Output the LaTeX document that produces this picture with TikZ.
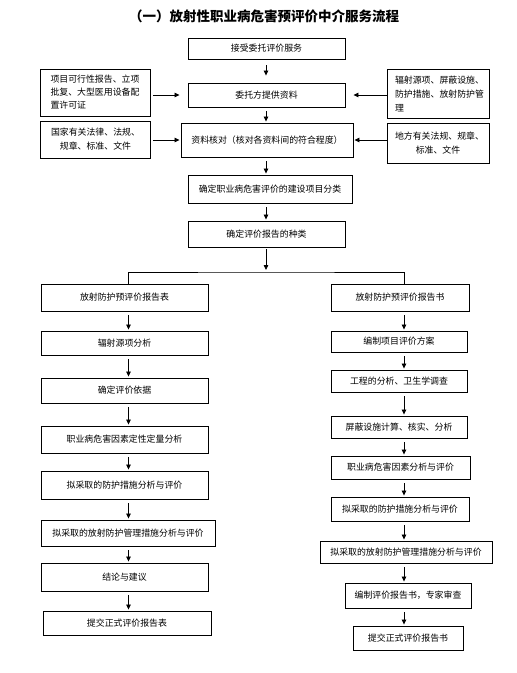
\documentclass[tikz,border=0pt]{standalone}
\usepackage{fontspec}
\setmainfont{Noto Sans CJK SC}
\usetikzlibrary{arrows.meta,calc}
\newcommand\mybox[6]{\node[box, minimum width={(#4-#2)*1pt}, minimum height={(#5-#3)*1pt}] (#1) at ({(#2+#4)/2},{(#3+#5)/2}) {#6};}
\begin{document}
\begin{tikzpicture}[x=1pt,y=-1pt,
  box/.style={draw, line width=0.9pt, inner sep=0pt, font=\fontsize{8.9}{14}\selectfont, align=center},
  side/.style={box, inner xsep=10pt, text width=90pt},
  arr/.style={line width=0.8pt, -{Triangle[length=5pt,width=4.5pt]}, shorten <=4pt, shorten >=1pt},
  ln/.style={line width=0.8pt}]
\useasboundingbox (0,0) rectangle (517,673);
\node[font=\fontsize{13.5}{16}\bfseries] (title) at (264,16) {（一）放射性职业病危害预评价中介服务流程};
% main column
\mybox{t1}{188}{38}{345}{59}{接受委托评价服务}
\mybox{t2}{188}{83}{345}{107}{委托方提供资料}
\mybox{t3}{181}{123}{353}{157}{资料核对（核对各资料间的符合程度）}
\mybox{t4}{188}{175}{352}{203}{确定职业病危害评价的建设项目分类}
\mybox{t5}{188}{221}{345}{247}{确定评价报告的种类}
% side boxes
\node[side, align=left, font=\fontsize{8.9}{13}\selectfont, minimum height=47pt] (L1) at (95.5,92.5) {项目可行性报告、立项\\批复、大型医用设备配\\置许可证};
\node[side, minimum height=37pt] (L2) at (95.5,139.5) {国家有关法律、法规、\\规章、标准、文件};
\node[side, align=left, text width=86pt, inner xsep=8pt, minimum height=49pt] (R1) at (438,93.5) {辐射源项、屏蔽设施、\\防护措施、放射防护管\\理};
\node[side, text width=86pt, inner xsep=8pt, minimum height=40pt] (R2) at (438,143) {地方有关法规、规章、\\标准、文件};
% left column
\mybox{a0}{41}{284}{208}{311}{放射防护预评价报告表}
\mybox{a1}{41}{331}{208}{355}{辐射源项分析}
\mybox{a2}{41}{378}{208}{403}{确定评价依据}
\mybox{a3}{41}{426}{208}{453}{职业病危害因素定性定量分析}
\mybox{a4}{41}{471}{208}{499}{拟采取的防护措施分析与评价}
\mybox{a5}{41}{520}{215}{546}{拟采取的放射防护管理措施分析与评价}
\mybox{a6}{41}{563}{208}{591}{结论与建议}
\mybox{a7}{43}{611}{211}{635}{提交正式评价报告表}
% right column
\mybox{b0}{331}{284}{469}{311}{放射防护预评价报告书}
\mybox{b1}{331}{331}{467}{352}{编制项目评价方案}
\mybox{b2}{331}{370}{467}{392}{工程的分析、卫生学调查}
\mybox{b3}{331}{416}{467}{438}{屏蔽设施计算、核实、分析}
\mybox{b4}{331}{456}{470}{479}{职业病危害因素分析与评价}
\mybox{b5}{331}{497}{469}{521}{拟采取的防护措施分析与评价}
\mybox{b6}{320}{541}{492}{563}{拟采取的放射防护管理措施分析与评价}
\mybox{b7}{345}{583}{471}{608}{编制评价报告书，专家审查}
\mybox{b8}{353}{626}{463}{650}{提交正式评价报告书}
% column coordinates
\coordinate (colM) at (266,0);
\coordinate (colL) at (128.5,0);
\coordinate (colR) at (404,0);
\coordinate (split) at (266,272);
% main arrows
\draw[arr, shorten <=6pt, shorten >=7pt] (t1.south -| colM) -- (t2.north -| colM);
\draw[arr] (t2.south -| colM) -- (t3.north -| colM);
\draw[arr] (t3.south -| colM) -- (t4.north -| colM);
\draw[arr] (t4.south -| colM) -- (t5.north -| colM);
\draw[arr, shorten <=2pt, shorten >=2pt] (t5.south -| colM) -- (split);
\draw[ln] (a0.north -| colL) |- (split) -| (b0.north -| colR);
% side arrows
\draw[arr, shorten <=2pt, shorten >=8pt] (L1.east |- t2.west) -- (t2.west);
\draw[arr, shorten <=0pt, shorten >=8pt] (R1.west |- t2.east) -- (t2.east);
\draw[arr, shorten <=2pt, shorten >=1pt] (L2.east |- t3.west) -- (t3.west);
\draw[arr, shorten <=0pt, shorten >=1pt] (R2.west |- t3.east) -- (t3.east);
% left column arrows
\foreach \p/\q in {a0/a1,a1/a2,a2/a3,a3/a4,a4/a5,a5/a6,a6/a7}
  \draw[arr] (\p.south -| colL) -- (\q.north -| colL);
% right column arrows
\foreach \p/\q in {b0/b1,b1/b2,b2/b3,b3/b4,b4/b5,b5/b6,b6/b7,b7/b8}
  \draw[arr] (\p.south -| colR) -- (\q.north -| colR);
\end{tikzpicture}
\end{document}
